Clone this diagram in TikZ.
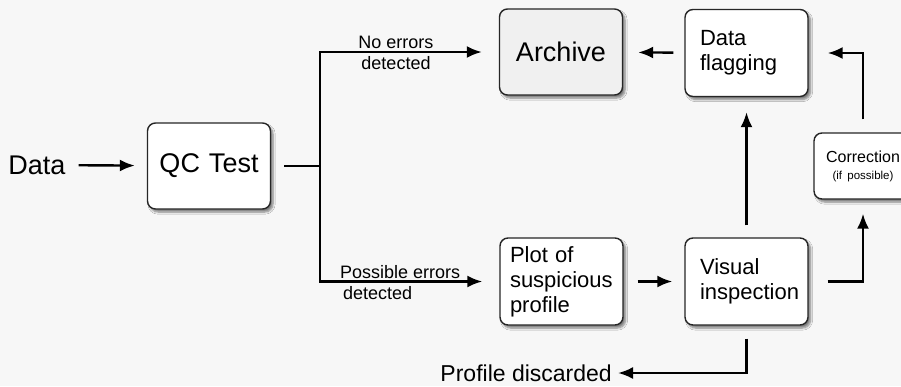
\documentclass[tikz,border=0pt]{standalone}
\usepackage{fontspec}
\setmainfont{Liberation Sans}
\usetikzlibrary{positioning}
\usetikzlibrary{arrows.meta}
\usetikzlibrary{shadows.blur}

\begin{document}
\begin{tikzpicture}[x=1pt,y=-1pt,
box/.style={draw=black!85,line width=1.4pt,rounded corners=8pt,fill=white,minimum width=123pt,minimum height=87pt,text width=93pt,align=left,inner sep=0pt,font=\fontsize{22}{25}\selectfont,blur shadow={shadow xshift=2.5pt,shadow yshift=-3pt,shadow opacity=50,shadow blur steps=6}},
big/.style={font=\fontsize{27}{30}\selectfont,inner sep=2pt},
lbl/.style={font=\fontsize{18}{21}\selectfont,inner sep=0pt},
arr/.style={line width=2.4pt,-{Latex[length=15pt,width=12pt]}},
line/.style={line width=2.4pt}]

\fill[black!3] (0,0) rectangle (901,386);
\useasboundingbox (0,0) rectangle (901,386);

\node[big] (data) at (37,165) {Data};
\node[box,big,align=center,text width=110pt,minimum height=86pt] (qc) at (209,166) {QC Test};
\node[box,big,align=center,text width=110pt,minimum height=86pt,fill=black!6] (archive) at (561,52) {Archive};
\node[box] (flag) at (746.5,53) {Data\\flagging};
\node[box,text width=103pt] (plot) at (561.5,281.5) {Plot of\\suspicious\\profile};
\node[box] (vis) at (746.5,281.5) {Visual\\inspection};
\node[box,minimum width=98pt,minimum height=66pt,text width=90pt,align=center,font=\fontsize{16}{17}\selectfont] (corr) at (863,166) {Correction\\{\fontsize{11.5}{13}\selectfont(if possible)}};
\node[font=\fontsize{23}{26}\selectfont,inner sep=0pt,anchor=east] (disc) at (612,373) {Profile discarded};

\coordinate (split) at (320,166);

\draw[arr,shorten <=11pt,shorten >=12pt] (data) -- (qc);
\draw[line,shorten <=13pt] (qc) -- (split);
\draw[arr,shorten >=17pt] (split) |- (archive.west);
\draw[arr,shorten >=17pt] (split) |- (plot.west);
\node[lbl,align=center] (noerr) at (396,52.5) {No errors\\detected};
\node[lbl,align=left,anchor=west] (poserr) at (340,282.5) {Possible errors\\\,detected};

\draw[arr,shorten <=11pt,shorten >=15pt] (flag) -- (archive);
\draw[arr,shorten <=14pt,shorten >=12pt] (plot) -- (vis);
\draw[arr,shorten <=12pt,shorten >=15pt] (vis) -- (flag);
\draw[arr,shorten <=13pt,shorten >=19pt] (corr.north) |- (flag.east);
\draw[arr,shorten <=19pt,shorten >=14pt] (vis.east) -| (corr.south);
\draw[arr,shorten <=13pt,shorten >=6pt] (vis.south) |- (disc.east);

\end{tikzpicture}
\end{document}
